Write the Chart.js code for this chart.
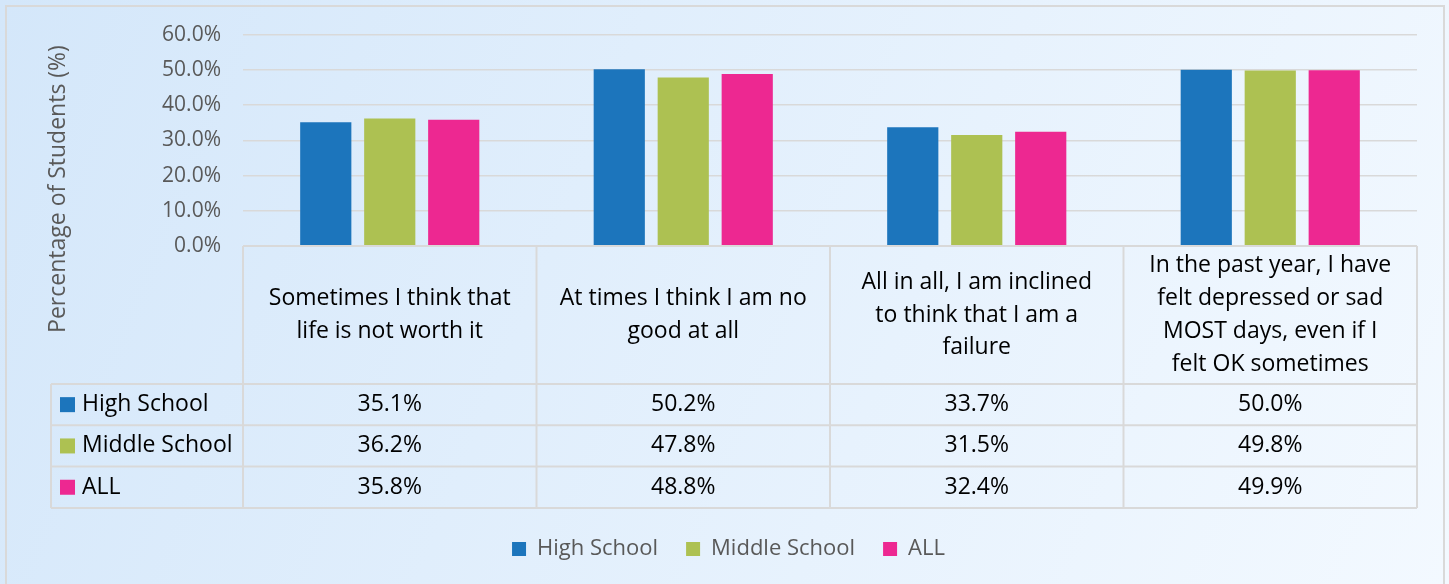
<!DOCTYPE html>
<html>
<head>
<meta charset="utf-8">
<script src="https://cdn.jsdelivr.net/npm/chart.js@4.4.0/dist/chart.umd.min.js"></script>
<style>
  html, body { margin: 0; padding: 0; background: #fff; }
  #wrap { width: 1449px; height: 584px; }
</style>
</head>
<body>
<div id="wrap"><canvas id="chart" width="1449" height="584"></canvas></div>
<script>
// category labels, already wrapped the way the table header shows them
const categories = [
  ["Sometimes I think that", "life is not worth it"],
  ["At times I think I am no", "good at all"],
  ["All in all, I am inclined", "to think that I am a", "failure"],
  ["In the past year, I have", "felt depressed or sad", "MOST days, even if I", "felt OK sometimes"],
];
const seriesNames = ["High School", "Middle School", "ALL"];
const highSchool = [35.1, 50.2, 33.7, 50.0];
const middleSchool = [36.2, 47.8, 31.5, 49.8];
const allStudents = [35.8, 48.8, 32.4, 49.9];
const yMin = 0;
const yMax = 60;
const yStep = 10;
const yTitle = "Percentage of Students (%)";

const colors = ["#1c75bc", "#adc152", "#ed2891"];
const FONT = "'Open Sans', 'Noto Sans', sans-serif";

// background + outer frame + axis title (centred on the whole chart, like Excel)
const backgroundPlugin = {
  id: "background",
  beforeDraw(chart) {
    const { ctx, width, height } = chart;
    const g = ctx.createLinearGradient(0, 0, width, height);
    g.addColorStop(0, "#d4e7fa");
    g.addColorStop(1, "#f3f9ff");
    ctx.save();
    ctx.fillStyle = g;
    ctx.fillRect(0, 0, width, height);
    ctx.strokeStyle = "#d9d9d9";
    ctx.lineWidth = 2;
    ctx.strokeRect(6, 6, width - 11, height - 4);

    ctx.translate(58, 189);
    ctx.rotate(-Math.PI / 2);
    ctx.fillStyle = "#595959";
    ctx.font = "23px " + FONT;
    ctx.textAlign = "center";
    ctx.textBaseline = "middle";
    ctx.fillText(yTitle, 0, 0);
    ctx.restore();
  },
};

// data table under the plot, column edges taken from the x scale
const tablePlugin = {
  id: "dataTable",
  afterDraw(chart) {
    const { ctx, chartArea } = chart;
    const xs = chart.scales.x;
    const colW = xs.getPixelForValue(1) - xs.getPixelForValue(0);
    const top = chartArea.bottom;
    const headerH = 138;
    const rowH = 41.3;
    const leftX = 51;
    const rows = [highSchool, middleSchool, allStudents];
    const right = xs.getPixelForValue(categories.length - 1) + colW / 2;
    const left = xs.getPixelForValue(0) - colW / 2;
    const bottom = top + headerH + rowH * rows.length;

    ctx.save();
    ctx.strokeStyle = "#d9d9d9";
    ctx.lineWidth = 2;
    ctx.beginPath();
    ctx.moveTo(left, top); ctx.lineTo(right, top);
    for (let r = 0; r <= rows.length; r++) {
      const y = top + headerH + rowH * r;
      ctx.moveTo(leftX, y); ctx.lineTo(right, y);
    }
    for (let c = 0; c <= categories.length; c++) {
      const x = left + colW * c;
      ctx.moveTo(x, top); ctx.lineTo(x, bottom);
    }
    ctx.moveTo(leftX, top + headerH); ctx.lineTo(leftX, bottom);
    ctx.stroke();

    // header text
    ctx.fillStyle = "#000";
    ctx.textAlign = "center";
    ctx.textBaseline = "middle";
    ctx.font = "23px " + FONT;
    const lineH = 32.8;
    categories.forEach((lines, i) => {
      const cx = xs.getPixelForValue(i);
      const cy = top + headerH / 2;
      lines.forEach((txt, k) => {
        ctx.fillText(txt, cx, cy + (k - (lines.length - 1) / 2) * lineH);
      });
    });

    // rows
    rows.forEach((vals, r) => {
      const cy = top + headerH + rowH * r + rowH / 2;
      ctx.fillStyle = colors[r];
      ctx.fillRect(60, cy - 7.5, 15, 15);
      ctx.fillStyle = "#000";
      ctx.textAlign = "left";
      ctx.fillText(seriesNames[r], 82, cy);
      ctx.textAlign = "center";
      vals.forEach((v, i) => {
        ctx.fillText(v.toFixed(1) + "%", xs.getPixelForValue(i), cy);
      });
    });
    ctx.restore();
  },
};

const ctx = document.getElementById("chart").getContext("2d");
new Chart(ctx, {
  type: "bar",
  data: {
    labels: categories.map((l) => l.join(" ")),
    datasets: [highSchool, middleSchool, allStudents].map((vals, i) => ({
      label: seriesNames[i],
      data: vals,
      backgroundColor: colors[i],
      borderWidth: 0,
      categoryPercentage: 0.654,
      barPercentage: 0.8,
    })),
  },
  options: {
    responsive: false,
    animation: false,
    layout: { padding: { left: 40, right: 32, top: 26, bottom: 14 } },
    scales: {
      x: {
        grid: { display: false, drawTicks: false },
        border: { display: false },
        ticks: { display: false },
        afterFit(scale) { scale.height = 264; },
      },
      y: {
        min: yMin,
        max: yMax,
        ticks: {
          stepSize: yStep,
          padding: 22,
          color: "#595959",
          font: { family: FONT, size: 21 },
          callback: (v) => v.toFixed(1) + "%",
        },
        grid: { color: "#d9d9d9", lineWidth: 1.5, drawTicks: false },
        border: { display: false },
        afterFit(scale) { scale.width = 203; },
      },
    },
    plugins: {
      legend: {
        position: "bottom",
        labels: {
          boxWidth: 14,
          boxHeight: 14,
          padding: 28,
          color: "#595959",
          font: { family: FONT, size: 22 },
        },
      },
      tooltip: { enabled: false },
    },
  },
  plugins: [backgroundPlugin, tablePlugin],
});
</script>
</body>
</html>
